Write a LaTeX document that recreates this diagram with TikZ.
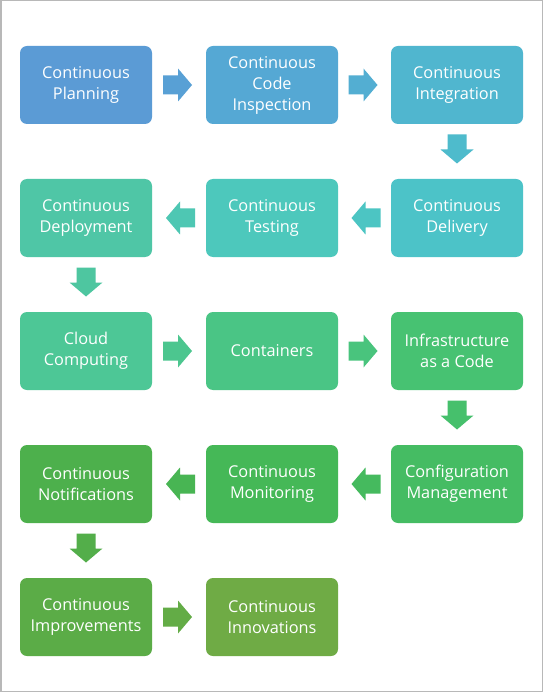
\documentclass[tikz,border=0pt]{standalone}
\usepackage{fontspec}
\setmainfont{Open Sans}
\usetikzlibrary{calc}
\definecolor{c1}{HTML}{5B9BD5}
\definecolor{c2}{HTML}{55A8D4}
\definecolor{c3}{HTML}{50B6CF}
\definecolor{c4}{HTML}{4CC3C8}
\definecolor{c5}{HTML}{4DC8BC}
\definecolor{c6}{HTML}{4FC6A6}
\definecolor{c7}{HTML}{4DC796}
\definecolor{c8}{HTML}{4AC585}
\definecolor{c9}{HTML}{47C272}
\definecolor{c10}{HTML}{45BC63}
\definecolor{c11}{HTML}{45B857}
\definecolor{c12}{HTML}{4DB04C}
\definecolor{c13}{HTML}{5BAC47}
\definecolor{c14}{HTML}{6FAB45}
\tikzset{
  stepbox/.style={rounded corners=7pt, minimum width=132pt, minimum height=78pt,
    inner sep=0pt, text=white, align=center, font=\fontsize{16.3}{21}\selectfont, fill=#1},
}
\newcommand\blockarrow[3]{%
  \fill[#3, shift={#1}, rotate=#2] (-14.5,-9.5) -- (0.5,-9.5) -- (0.5,-16.5) -- (14.5,0)
    -- (0.5,16.5) -- (0.5,9.5) -- (-14.5,9.5) -- cycle;}
\begin{document}
\begin{tikzpicture}[x=1pt,y=-1pt]
\useasboundingbox (0,0) rectangle (543,692);
\fill[white] (0,0) rectangle (543,692);
\draw[black!28, line width=1.5pt] (0.75,0.75) rectangle (542.25,691.25);
\node[stepbox=c1]  (b1)  at (86,85)  {Continuous\\Planning};
\node[stepbox=c2]  (b2)  at (272,85) {Continuous\\Code\\Inspection};
\node[stepbox=c3]  (b3)  at (457,85) {Continuous\\Integration};
\node[stepbox=c4]  (b4)  at (457,218) {Continuous\\Delivery};
\node[stepbox=c5]  (b5)  at (272,218) {Continuous\\Testing};
\node[stepbox=c6]  (b6)  at (86,218) {Continuous\\Deployment};
\node[stepbox=c7]  (b7)  at (86,351) {Cloud\\Computing};
\node[stepbox=c8]  (b8)  at (272,351) {Containers};
\node[stepbox=c9]  (b9)  at (457,351) {Infrastructure\\as a Code};
\node[stepbox=c10] (b10) at (457,484) {Configuration\\Management};
\node[stepbox=c11] (b11) at (272,484) {Continuous\\Monitoring};
\node[stepbox=c12] (b12) at (86,484) {Continuous\\Notifications};
\node[stepbox=c13] (b13) at (86,617) {Continuous\\Improvements};
\node[stepbox=c14] (b14) at (272,617) {Continuous\\Innovations};
\blockarrow{($(b1.east)!0.5!(b2.west)+(-1.5,0)$)}{0}{c1!60!c2}
\blockarrow{($(b2.east)!0.5!(b3.west)+(-1.5,0)$)}{0}{c2!60!c3}
\blockarrow{($(b3.south)!0.5!(b4.north)+(0,-2.5)$)}{-90}{c3!60!c4}
\blockarrow{($(b4.west)!0.5!(b5.east)+(1.5,0)$)}{180}{c4!60!c5}
\blockarrow{($(b5.west)!0.5!(b6.east)+(1.5,0)$)}{180}{c5!60!c6}
\blockarrow{($(b6.south)!0.5!(b7.north)+(0,-2.5)$)}{-90}{c6!60!c7}
\blockarrow{($(b7.east)!0.5!(b8.west)+(-1.5,0)$)}{0}{c7!60!c8}
\blockarrow{($(b8.east)!0.5!(b9.west)+(-1.5,0)$)}{0}{c8!60!c9}
\blockarrow{($(b9.south)!0.5!(b10.north)+(0,-2.5)$)}{-90}{c9!60!c10}
\blockarrow{($(b10.west)!0.5!(b11.east)+(1.5,0)$)}{180}{c10!60!c11}
\blockarrow{($(b11.west)!0.5!(b12.east)+(1.5,0)$)}{180}{c11!60!c12}
\blockarrow{($(b12.south)!0.5!(b13.north)+(0,-2.5)$)}{-90}{c12!60!c13}
\blockarrow{($(b13.east)!0.5!(b14.west)+(-1.5,0)$)}{0}{c13!60!c14}
\end{tikzpicture}
\end{document}
